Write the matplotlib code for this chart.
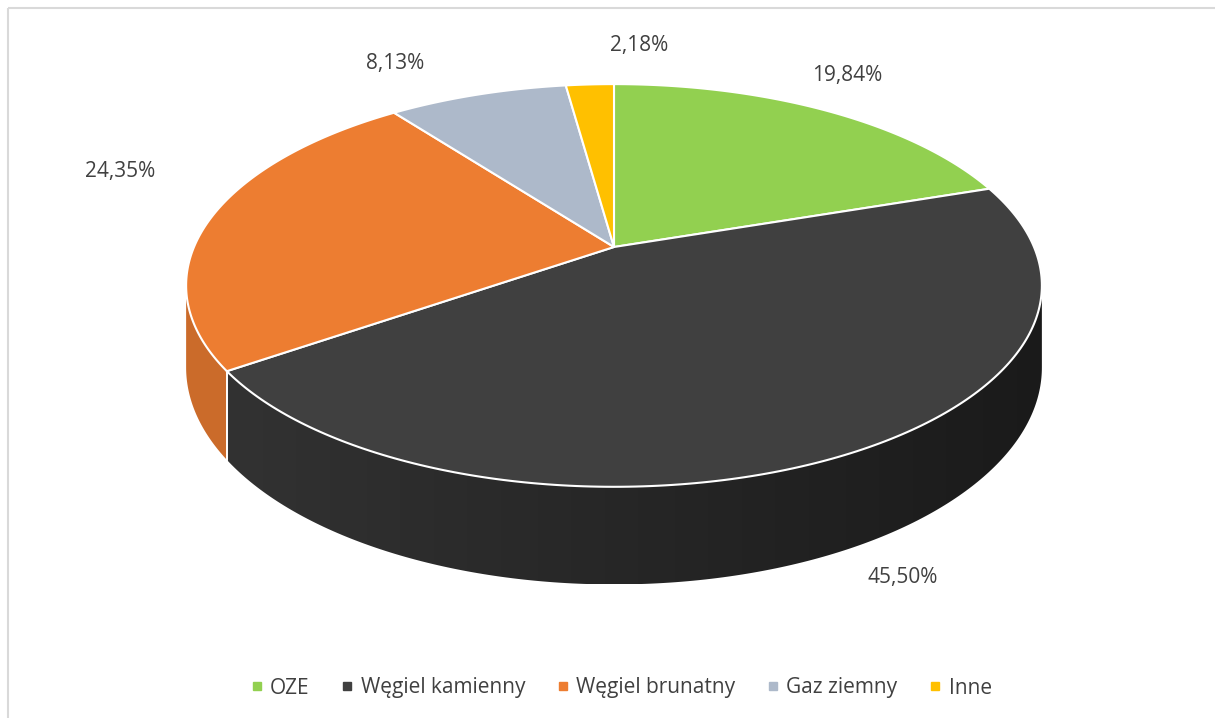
import numpy as np
import matplotlib.pyplot as plt
from matplotlib.patches import Polygon, Rectangle
from matplotlib.lines import Line2D
from matplotlib.colors import to_rgb, LinearSegmentedColormap

categories = ["OZE", "Węgiel kamienny", "Węgiel brunatny", "Gaz ziemny", "Inne"]
values = [19.84, 45.50, 24.35, 8.13, 2.18]
labels = ["19,84%", "45,50%", "24,35%", "8,13%", "2,18%"]
colors = ["#92D050", "#404040", "#ED7D31", "#ADB9CA", "#FFC000"]

# projection of the tilted disc (pixel space)
CX, CY = 614, 247
A, B = 420, 194
K = 0.191           # perspective strength
H = 79              # thickness


def project(theta, drop=0.0):
    # theta clockwise from 12 o'clock, degrees
    t = np.radians(theta)
    u, v = np.sin(t), np.cos(t)
    w = 1 + K * v
    return CX + A * u / w, CY - B * v / w + drop / w


def shade(c, f):
    r, g, b = to_rgb(c)
    return (r * f, g * f, b * f)


fig = plt.figure(figsize=(12.15, 7.18), dpi=100)
ax = fig.add_axes([0, 0, 1, 1])
ax.set_xlim(0, 1215)
ax.set_ylim(718, 0)
ax.axis("off")

ax.add_patch(Rectangle((8, 8), 1300, 800, fill=False, ec="#D9D9D9", lw=1.5))

total = sum(values)
bounds = np.concatenate([[0], np.cumsum(values) / total * 360])
vis_lo = np.degrees(np.arccos(-K))
vis_hi = 360 - vis_lo

# side shading: lighter on the left, darker to the right
side_f = {"#404040": (0.80, 0.41), "#ED7D31": (0.86, 0.80)}

for i, c in enumerate(colors):
    lo, hi = max(bounds[i], vis_lo), min(bounds[i + 1], vis_hi)
    if hi <= lo:
        continue
    th = np.linspace(lo, hi, 200)
    xt, yt = project(th)
    xb, yb = project(th[::-1], H)
    poly = Polygon(np.column_stack([np.r_[xt, xb], np.r_[yt, yb]]), closed=True,
                   fc="none", ec="none")
    ax.add_patch(poly)
    fl, fr = side_f.get(c, (0.8, 0.6))
    cmap = LinearSegmentedColormap.from_list("s", [shade(c, fl), shade(c, fr)])
    x0, x1 = min(xt.min(), xb.min()), max(xt.max(), xb.max())
    y0, y1 = min(yt.min(), yb.min()), max(yt.max(), yb.max())
    # gradient relative to full pie width
    gx = np.linspace(x0, x1, 256)
    grad = ((gx - (CX - 430)) / 860)[None, :]
    im = ax.imshow(grad, cmap=cmap, vmin=0, vmax=1, extent=(x0, x1, y1, y0),
                   aspect="auto", interpolation="bilinear")
    im.set_clip_path(poly)
    for a in (bounds[i], bounds[i + 1]):
        if vis_lo < a < vis_hi:
            xa, ya = project(a)
            xc, yc = project(a, H)
            ax.plot([xa, xc], [ya, yc], color="white", lw=1.2)

ax.set_xlim(0, 1215)
ax.set_ylim(718, 0)

# top faces
for i, c in enumerate(colors):
    th = np.linspace(bounds[i], bounds[i + 1], 200)
    xs, ys = project(th)
    poly = np.column_stack([np.r_[CX, xs], np.r_[CY, ys]])
    ax.add_patch(Polygon(poly, closed=True, fc=c, ec="white", lw=1.5, joinstyle="round"))

# data labels
label_pos = [(847, 76), (903, 578), (120, 172), (395, 64), (639, 45)]
for txt, (lx, ly) in zip(labels, label_pos):
    ax.text(lx, ly, txt, ha="center", va="center", fontsize=15,
            family="Open Sans", color="#404040")

handles = [Line2D([], [], marker="s", ls="none", markersize=6, color=c) for c in colors]
leg = fig.legend(handles, categories, loc="center", bbox_to_anchor=(621 / 1215, 1 - 688 / 718),
                 ncol=5, frameon=False, handlelength=0.6, handletextpad=0.35, columnspacing=1.5,
                 prop={"family": "Open Sans", "size": 15})
for t in leg.get_texts():
    t.set_color("#404040")

fig.savefig("out.png", dpi=100)
